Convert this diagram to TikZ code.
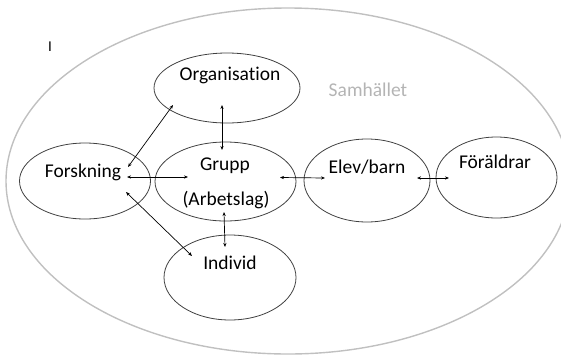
\documentclass[tikz,border=0pt]{standalone}
\usepackage{fontspec}
\setmainfont{Carlito}[Ligatures={NoCommon}]
\usetikzlibrary{shapes.geometric,arrows.meta,calc}
\definecolor{ringgray}{HTML}{C0C0C0}
\definecolor{edgegray}{HTML}{404040}
\definecolor{labgray}{HTML}{B4B4B4}
\tikzset{
  blob/.style={ellipse, draw=edgegray, line width=0.8pt, inner sep=0pt},
  txt/.style={font=\fontsize{19.5}{22}\selectfont, inner sep=0pt, text=black},
  link/.style={{Stealth[length=4pt,width=3.2pt]}-{Stealth[length=4pt,width=3.2pt]}, line width=0.7pt, black}
}
\begin{document}
\begin{tikzpicture}[x=1pt,y=-1pt]
\useasboundingbox (0,0) rectangle (561,356);
% society
\node[ellipse, draw=ringgray, line width=1.4pt, minimum width=564pt, minimum height=346pt, inner sep=0pt] (samh) at (288,181) {};
\node[txt, text=labgray] (samhlab) at (368,90) {Samhället};
\node[txt, font=\fontsize{15}{17}\selectfont] (cursor) at (50,47) {I};
% nodes
\node[blob, minimum width=146pt, minimum height=70pt] (org) at (227,88) {};
\node[txt] (orglab) at (230,75) {Organisation};
\node[blob, minimum width=131pt, minimum height=76pt] (forsk) at (85,181) {};
\node[txt] (forsklab) at (83,172) {Forskning};
\node[blob, minimum width=141pt, minimum height=79pt] (grupp) at (225.5,181.5) {};
\node[txt] (gruplab) at (225,166) {Grupp};
\node[txt] (arblab) at (226,200) {(Arbetslag)};
\node[blob, minimum width=126pt, minimum height=83pt] (elev) at (367,180.5) {};
\node[txt] (elevlab) at (367,167) {Elev/barn};
\node[blob, minimum width=121pt, minimum height=81pt] (foral) at (496.5,177.5) {};
\node[txt] (forallab) at (495,162) {Föräldrar};
\node[blob, minimum width=132pt, minimum height=85pt] (indiv) at (230,277.5) {};
\node[txt] (indivlab) at (230,263) {Individ};
% connector end points
\coordinate (fo) at ($(forsk.center)+(43,-14)$);
\coordinate (of) at ($(org.center)+(-54,17)$);
\coordinate (og) at ($(org.center)+(-5,17)$);
\coordinate (go) at ($(grupp.center)+(-3.5,-31.5)$);
\coordinate (fg) at ($(forsk.center)+(42,-4)$);
\coordinate (gf) at ($(grupp.center)+(-37.5,-4.5)$);
\coordinate (fi) at ($(forsk.center)+(41,11)$);
\coordinate (if) at ($(indiv.center)+(-38,-21.5)$);
\coordinate (ge) at ($(grupp.center)+(54.5,-4)$);
\coordinate (eg) at ($(elev.center)+(-42,-2.5)$);
\coordinate (ef) at ($(elev.center)+(50,-2.5)$);
\coordinate (fe) at ($(foral.center)+(-47.5,0.5)$);
\coordinate (gi) at ($(grupp.center)+(-1.5,30.5)$);
\coordinate (ig) at ($(indiv.center)+(-5,-30.5)$);
% connectors
\draw[link] (fo) -- (of);
\draw[link] (og) -- (go);
\draw[link] (fg) -- (gf);
\draw[link] (fi) -- (if);
\draw[link] (ge) -- (eg);
\draw[link] (ef) -- (fe);
\draw[link] (gi) -- (ig);
\end{tikzpicture}
\end{document}
